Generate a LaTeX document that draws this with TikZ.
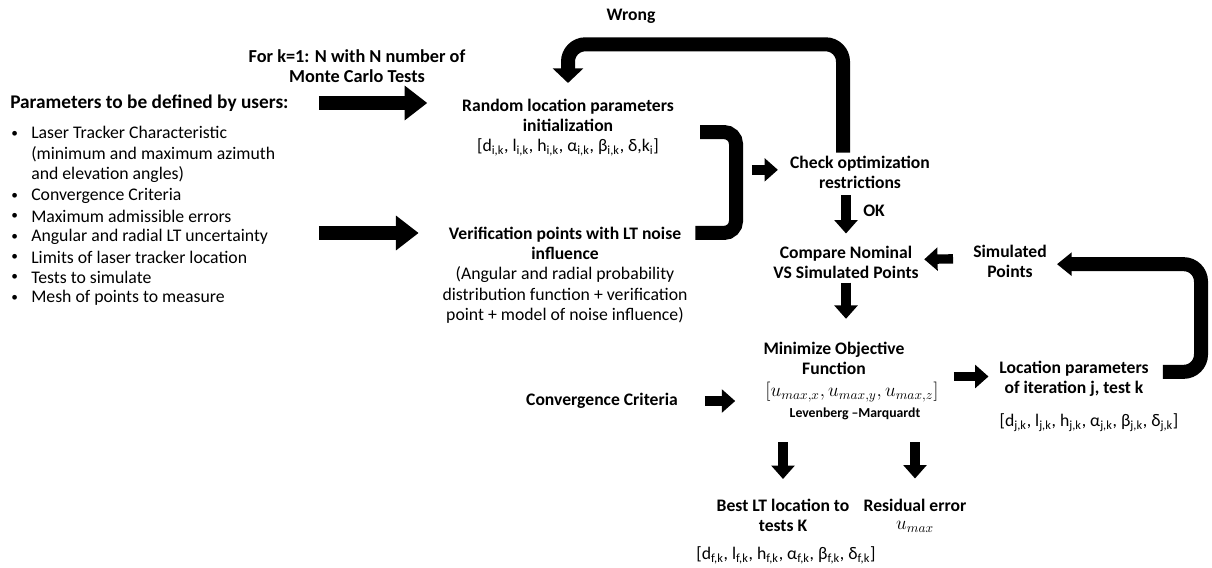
\documentclass[tikz,border=0pt]{standalone}
\usepackage{fontspec}
\setmainfont{Carlito}
\usetikzlibrary{arrows.meta}
\newcommand{\ix}[1]{\textsubscript{#1}}

\begin{document}
\begin{tikzpicture}[x=.75pt,y=-.75pt,font=\fontsize{13.3}{15.5}\selectfont,
  head/.style={font=\fontsize{13.2}{15}\selectfont\bfseries,align=center,inner sep=0pt},
  plain/.style={align=center,inner sep=0pt},
  item/.style={anchor=west,align=left,inner sep=0pt},
  fat/.style={line width=10.5pt,-{Triangle[width=25pt,length=17pt]}},
  slim/.style={line width=7pt,-{Triangle[width=17pt,length=10pt]}},
  bar/.style={line width=10.5pt,rounded corners=9pt},
  loopfat/.style={line width=10.5pt,rounded corners=13pt}]
\path[use as bounding box] (0,0) rectangle (1212,567);
% left column
\node[head,font=\fontsize{13.7}{15.5}\selectfont\bfseries] (fork) at (357,66) {For k=1: N with N number of\\Monte Carlo Tests};
\node[head,anchor=west,font=\fontsize{14.5}{15}\selectfont\bfseries] (users) at (10,103) {Parameters to be defined by users:};
\foreach \y [count=\i] in {134,196,216,237,257,277,298}
  \node[anchor=west,inner sep=0pt,font=\fontsize{10}{12}\selectfont] (dot\i) at (11,\y) {•};
\node[item] (b1) at (31,154.5) {Laser Tracker Characteristic\\(minimum and maximum azimuth\\and elevation angles)};
\foreach \y/\txt [count=\i from 2] in {196/Convergence Criteria,216/Maximum admissible errors,
  237/Angular and radial LT uncertainty,257/Limits of laser tracker location,
  277/Tests to simulate,298/Mesh of points to measure}
  \node[item] (b\i) at (31,\y) {\txt};
% middle column
\node[head] (wrong) at (631,16) {Wrong};
\node[head] (rand) at (568,115.5) {Random location parameters\\initialization};
\node[plain] (randv) at (568,147) {[d\ix{i,k}, l\ix{i,k}, h\ix{i,k}, α\ix{i,k}, β\ix{i,k}, δ,k\ix{i}]};
\node[head] (verif) at (565,243.5) {Verification points with LT noise\\influence};
\node[plain] (verifv) at (565,295) {(Angular and radial probability\\distribution function + verification\\point + model of noise influence)};
\node[head] (conv) at (602,401) {Convergence Criteria};
% right part
\node[head] (check) at (860,172.5) {Check optimization\\restrictions};
\node[head] (ok) at (874,211) {OK};
\node[head] (comp) at (846,262) {Compare Nominal\\VS Simulated Points};
\node[head] (sim) at (1010,261.5) {Simulated\\Points};
\node[head] (mini) at (834,358) {Minimize Objective\\Function};
\node[plain,font=\fontsize{14.5}{15}\selectfont] (minv) at (852,392) {$[u_{max,x}, u_{max,y}, u_{max,z}]$};
\node[plain,font=\fontsize{10.3}{12}\selectfont\bfseries] (lm) at (855,414) {Levenberg –Marquardt};
\node[head] (loc) at (1074,378.5) {Location parameters\\of iteration j, test k};
\node[plain] (locv) at (1089,423) {[d\ix{j,k}, l\ix{j,k}, h\ix{j,k}, α\ix{j,k}, β\ix{j,k}, δ\ix{j,k}]};
\node[head] (best) at (783,515.5) {Best LT location to\\tests K};
\node[plain] (bestv) at (786,555) {[d\ix{f,k}, l\ix{f,k}, h\ix{f,k}, α\ix{f,k}, β\ix{f,k}, δ\ix{f,k}]};
\node[head] (resid) at (915,505) {Residual error};
\node[plain,font=\fontsize{14.5}{15}\selectfont] (residv) at (915,527) {$u_{max}$};
% connectors
\draw[fat] ([xshift=22.5pt]users.east) -- ([xshift=-26pt]users.east -| rand.west);
\draw[fat] ([xshift=22.5pt,yshift=3pt]b4.east -| users.east) -- ([xshift=-22.5pt,yshift=3pt]b4.east -| verif.west);
\draw[bar] ([xshift=19.5pt,yshift=-12.4pt]rand.east) -| ([xshift=41pt,yshift=7.9pt]verif.east)
  -- ([xshift=10.5pt,yshift=7.9pt]verif.east);
\draw[slim] ([xshift=-28.5pt,yshift=2pt]check.west) -- ([xshift=-9pt,yshift=2pt]check.west);
\draw[loopfat,-{Triangle[width=22.5pt,length=11pt]}] ([xshift=-12.75pt,yshift=2.5pt]check.north)
  |- ([yshift=41pt]rand.north) -- ([yshift=12pt]rand.north);
\draw[slim] ([yshift=-4.5pt]check.south -| comp.north) -- ([yshift=9pt]comp.north);
\draw[slim] ([xshift=-15pt,yshift=2pt]sim.west) -- ([xshift=4pt,yshift=2pt]comp.east);
\draw[loopfat,-{Triangle[width=17pt,length=11pt]}] ([xshift=10.5pt,yshift=5pt]loc.east)
  -| ([xshift=115.5pt,yshift=-2pt]sim.east) -- ([xshift=7.5pt,yshift=-2pt]sim.east);
\draw[slim] ([yshift=-3pt]comp.south) -- ([yshift=17pt]comp.south |- mini.north);
\draw[slim] ([xshift=20pt]conv.east) -- ([xshift=-22.5pt]conv.east -| minv.west);
\draw[slim] ([xshift=-34pt,yshift=1.5pt]loc.west) -- ([xshift=-8pt,yshift=1.5pt]loc.west);
\draw[slim] ([yshift=-16.5pt]lm.south -| best.north) -- ([yshift=15pt]best.north);
\draw[slim] ([yshift=-16.5pt]lm.south -| resid.north) -- ([yshift=15pt]resid.north);
\end{tikzpicture}
\end{document}
